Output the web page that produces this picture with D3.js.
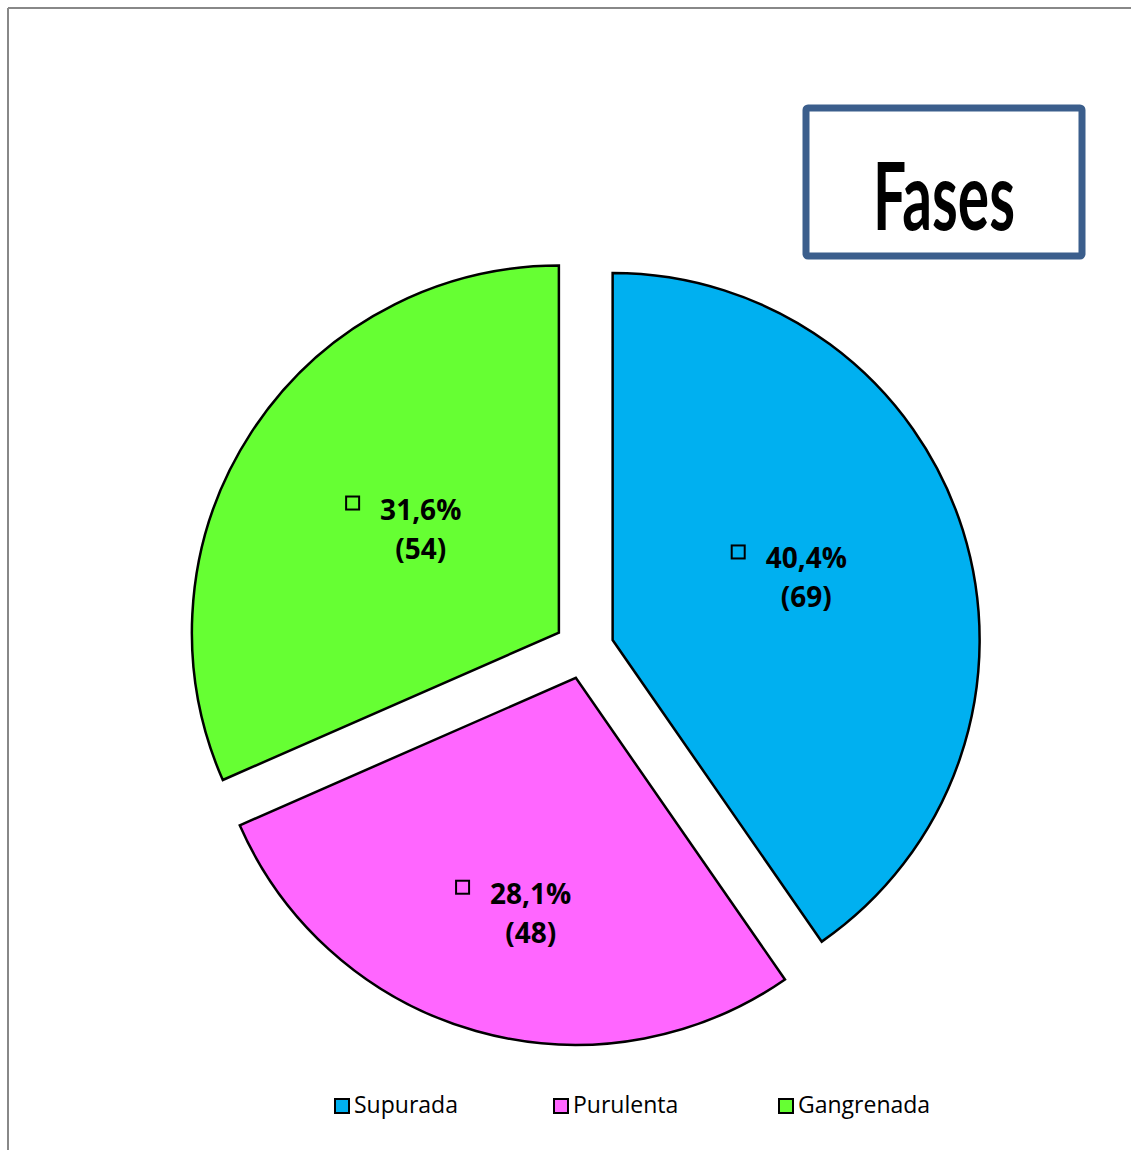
<!DOCTYPE html>
<html>
<head>
<meta charset="utf-8">
<script src="https://cdn.jsdelivr.net/npm/d3@7"></script>
<style>
  html, body { margin: 0; padding: 0; background: #fff; }
  svg { display: block; }
</style>
</head>
<body>
<svg id="chart" width="1131" height="1150"></svg>
<script>
const categories = ["Supurada", "Purulenta", "Gangrenada"];
const values = [69, 48, 54];
const colors = ["#00B0F0", "#FF66FF", "#66FF33"];
const title = "Fases";

const svg = d3.select("#chart");
const W = 1131, H = 1150;

// outer frame (top and left edges visible)
svg.append("line").attr("x1", 8).attr("y1", 8).attr("x2", W).attr("y2", 8)
  .attr("stroke", "#888").attr("stroke-width", 2);
svg.append("line").attr("x1", 8).attr("y1", 8).attr("x2", 8).attr("y2", H)
  .attr("stroke", "#888").attr("stroke-width", 2);

// title box
svg.append("rect").attr("x", 806).attr("y", 108).attr("width", 276).attr("height", 148)
  .attr("fill", "#fff").attr("stroke", "#3B5E8C").attr("stroke-width", 7).attr("rx", 2);
svg.append("text").attr("x", 873).attr("y", 230)
  .attr("font-family", "Lato, 'Open Sans', sans-serif").attr("font-weight", 700)
  .attr("font-size", 94).attr("textLength", 142).attr("lengthAdjust", "spacingAndGlyphs")
  .attr("fill", "#000").text(title);

// pie
const cx = 584, cy = 649, R = 367, explode = 30;
const total = d3.sum(values);
const pie = d3.pie().sort(null).value(d => d.value).startAngle(0).endAngle(2 * Math.PI);
const arcs = pie(categories.map((c, i) => ({ cat: c, value: values[i], color: colors[i] })));
const arc = d3.arc().innerRadius(0).outerRadius(R);

// label placement tweak per slice (radial fraction, angle shift in degrees)
const labelFactor = [0.553, 0.657, 0.468];
const labelShift = [0, -5, 3.3];

const g = svg.append("g").attr("transform", `translate(${cx},${cy})`);
arcs.forEach((a, i) => {
  const mid = (a.startAngle + a.endAngle) / 2;
  const ox = explode * Math.sin(mid), oy = -explode * Math.cos(mid);
  const sg = g.append("g").attr("transform", `translate(${ox},${oy})`);
  sg.append("path").attr("d", arc(a)).attr("fill", a.data.color)
    .attr("stroke", "#000").attr("stroke-width", 2.5).attr("stroke-linejoin", "miter");

  const la = mid + labelShift[i] * Math.PI / 180;
  const lr = R * labelFactor[i];
  const lx = lr * Math.sin(la), ly = -lr * Math.cos(la);
  const pct = (a.data.value / total * 100).toFixed(1).replace(".", ",") + "%";
  const t1 = sg.append("text").attr("x", lx).attr("y", ly - 11)
    .attr("text-anchor", "middle")
    .attr("font-family", "'Open Sans', Lato, sans-serif").attr("font-weight", 700)
    .attr("font-size", 28).attr("fill", "#000").text(pct);
  sg.append("text").attr("x", lx).attr("y", ly + 28)
    .attr("text-anchor", "middle")
    .attr("font-family", "'Open Sans', Lato, sans-serif").attr("font-weight", 700)
    .attr("font-size", 28).attr("fill", "#000").text("(" + a.data.value + ")");
  const w = t1.node().getComputedTextLength();
  sg.append("rect").attr("x", lx - w / 2 - 28 - 6).attr("y", ly - 11 - 17 - 6)
    .attr("width", 13).attr("height", 13)
    .attr("fill", "none").attr("stroke", "#000").attr("stroke-width", 2);
});

// legend
const legendX = [334, 553, 778];
const lg = svg.append("g");
categories.forEach((c, i) => {
  lg.append("rect").attr("x", legendX[i] + 1).attr("y", 1099).attr("width", 14).attr("height", 14)
    .attr("fill", colors[i]).attr("stroke", "#000").attr("stroke-width", 2);
  lg.append("text").attr("x", legendX[i] + 20).attr("y", 1113)
    .attr("font-family", "'Open Sans', sans-serif").attr("font-size", 23)
    .attr("fill", "#000").text(c);
});
</script>
</body>
</html>
